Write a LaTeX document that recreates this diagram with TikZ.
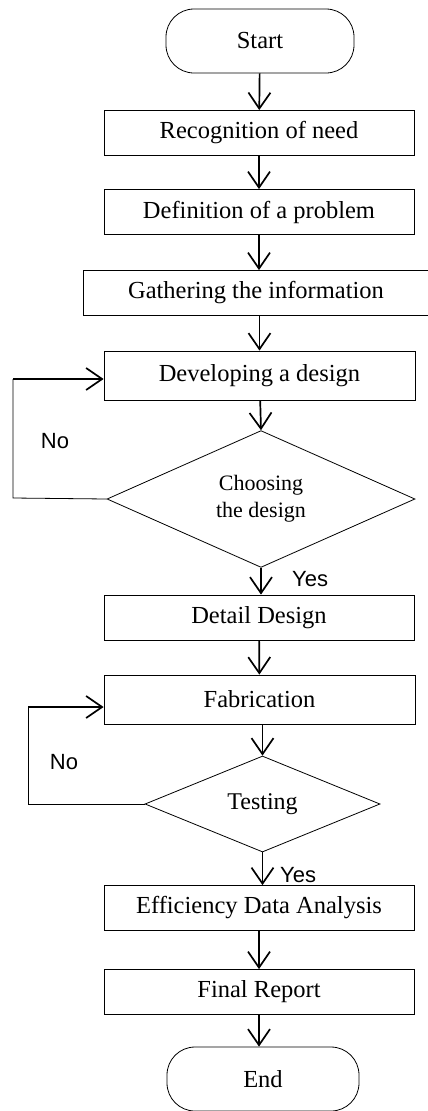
\documentclass[tikz,border=0pt]{standalone}
\usepackage{fontspec}
\setmainfont{Liberation Serif}
\newfontfamily\labfont{Liberation Sans}
\usetikzlibrary{arrows.meta,shapes.geometric}
\begin{document}
\begin{tikzpicture}[x=1pt,y=-1pt,
  box/.style={draw,line width=0.8pt,minimum width=310pt,minimum height=45pt,inner sep=0pt,font=\fontsize{24.5}{26}\selectfont},
  term/.style={draw,line width=0.8pt,rounded corners=28pt,minimum width=188pt,minimum height=64pt,inner sep=0pt,font=\fontsize{24.5}{26}\selectfont},
  dec/.style={draw,line width=0.8pt,diamond,inner sep=0pt},
  flow/.style={line width=1.7pt,-{Straight Barb[length=16pt,width=22pt,line width=1.7pt]}},
  loopline/.style={line width=0.8pt},
  lab/.style={font=\labfont\fontsize{22}{24}\selectfont,inner sep=0pt}
]
\useasboundingbox (0,0) rectangle (428,1111);
\node[term] (start) at (260,41) {Start};
\node[box] (rec) at (259,133) {Recognition of need};
\node[box] (def) at (259,212) {Definition of a problem};
\node[box,minimum width=345pt] (gat) at (256,293) {Gathering the information};
\node[box,minimum width=311pt,minimum height=49pt] (dev) at (259.5,375.5) {Developing a design};
\node[dec,minimum width=308pt,minimum height=134pt,font=\fontsize{22}{27}\selectfont,align=center] (cho) at (261,499) {Choosing\\the design};
\node[box] (det) at (259,617.5) {Detail Design};
\node[box,minimum width=311pt,minimum height=49pt] (fab) at (259.5,699.5) {Fabrication};
\node[dec,minimum width=235pt,minimum height=96pt,font=\fontsize{24}{26}\selectfont] (tes) at (262.5,804) {Testing};
\node[box] (eff) at (259,908) {Efficiency Data Analysis};
\node[box] (fin) at (259,992) {Final Report};
\node[term,minimum width=192pt] (end) at (263,1079) {End};

\draw[flow] (start) -- (rec);
\draw[flow] (rec) -- (def);
\draw[flow] (def.south) -- (def.south |- gat.north);
\draw[flow] (gat.south -| dev.north) -- (dev.north);
\draw[flow] (dev) -- (cho.north);
\draw[flow] (cho.south) -- (cho.south |- det.north);
\draw[flow] (det) -- (fab);
\draw[flow] (fab.south -| tes.north) -- (tes.north);
\draw[flow] (tes.south) -- (tes.south |- eff.north);
\draw[flow] (eff) -- (fin);
\draw[flow] (fin.south) -- (fin.south |- end.north);

\coordinate (n1a) at (13,498);
\coordinate (n1b) at (13,379);
\draw[loopline] (cho.west) -- (n1a) -- (n1b);
\draw[flow] (n1b) -- (dev.west |- n1b);
\coordinate (n2a) at (28,804);
\coordinate (n2b) at (28,707);
\draw[loopline] (tes.west) -- (n2a) -- (n2b);
\draw[flow] (n2b) -- (fab.west |- n2b);

\node[lab] (no1) at (55,441) {No};
\node[lab] (no2) at (64,762) {No};
\node[lab,anchor=west] (yes1) at (292,579) {Yes};
\node[lab,anchor=west] (yes2) at (280,875) {Yes};
\end{tikzpicture}
\end{document}
